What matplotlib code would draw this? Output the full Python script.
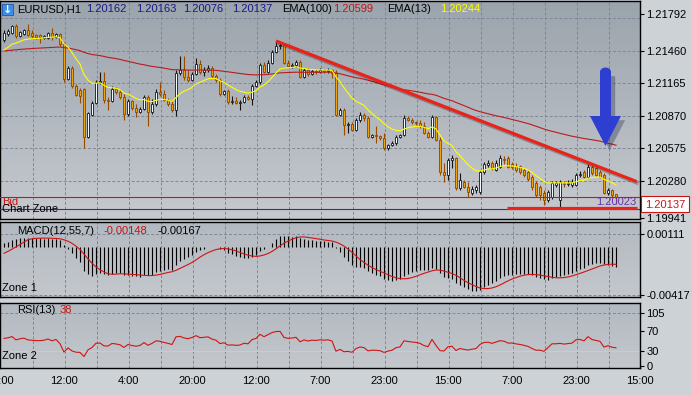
import numpy as np
import matplotlib
matplotlib.use("Agg")
import matplotlib.pyplot as plt
from matplotlib.colors import LinearSegmentedColormap
from matplotlib.patches import Rectangle, Polygon, Ellipse
import matplotlib.patheffects as pe

plt.rcParams['font.family'] = ['Liberation Sans', 'DejaVu Sans']

# ---------------- data (EURUSD, H1) ----------------
opens = [
    1.21556, 1.21610, 1.21619, 1.21683, 1.21592, 1.21610, 1.21647, 1.21619, 1.21601, 1.21601,
    1.21574, 1.21574, 1.21619, 1.21583, 1.21610, 1.21520, 1.21203, 1.21303, 1.21140, 1.21104,
    1.21113, 1.20678, 1.20877, 1.20986, 1.21176, 1.21185, 1.21013, 1.21004, 1.21113, 1.21085,
    1.21040, 1.20886, 1.21004, 1.20941, 1.20904, 1.20932, 1.21040, 1.20904, 1.20977, 1.21085,
    1.21067, 1.21013, 1.20977, 1.20923, 1.21257, 1.21284, 1.21221, 1.21194, 1.21248, 1.21339,
    1.21266, 1.21284, 1.21303, 1.21230, 1.21194, 1.21067, 1.21094, 1.20995, 1.21004, 1.20986,
    1.20995, 1.21040, 1.21022, 1.21140, 1.21176, 1.21330, 1.21266, 1.21348, 1.21447, 1.21502,
    1.21511, 1.21348, 1.21321, 1.21330, 1.21357, 1.21221, 1.21284, 1.21248, 1.21275, 1.21266,
    1.21284, 1.21275, 1.21284, 1.21257, 1.20877, 1.20923, 1.20787, 1.20796, 1.20742, 1.20832,
    1.20877, 1.20850, 1.20678, 1.20696, 1.20687, 1.20669, 1.20579, 1.20606, 1.20624, 1.20678,
    1.20696, 1.20850, 1.20832, 1.20814, 1.20805, 1.20778, 1.20714, 1.20678, 1.20859, 1.20651,
    1.20361, 1.20334, 1.20470, 1.20488, 1.20217, 1.20271, 1.20226, 1.20172, 1.20199, 1.20181,
    1.20361, 1.20425, 1.20443, 1.20380, 1.20407, 1.20479, 1.20488, 1.20434, 1.20416, 1.20416,
    1.20380, 1.20361, 1.20316, 1.20262, 1.20226, 1.20172, 1.20109, 1.20136, 1.20244, 1.20109,
    1.20262, 1.20253, 1.20244, 1.20244, 1.20334, 1.20361, 1.20316, 1.20407, 1.20398, 1.20361,
    1.20334, 1.20172, 1.20199, 1.20162]
highs = [
    1.21647, 1.21656, 1.21692, 1.21701, 1.21637, 1.21656, 1.21701, 1.21647, 1.21610, 1.21610,
    1.21601, 1.21628, 1.21665, 1.21619, 1.21619, 1.21538, 1.21321, 1.21321, 1.21158, 1.21122,
    1.21122, 1.20904, 1.21004, 1.21194, 1.21266, 1.21266, 1.21040, 1.21140, 1.21131, 1.21113,
    1.21067, 1.21022, 1.21013, 1.20977, 1.20950, 1.21058, 1.21058, 1.21022, 1.21113, 1.21176,
    1.21104, 1.21031, 1.21013, 1.21284, 1.21411, 1.21411, 1.21284, 1.21266, 1.21393, 1.21375,
    1.21312, 1.21330, 1.21321, 1.21248, 1.21212, 1.21104, 1.21113, 1.21049, 1.21040, 1.21013,
    1.21058, 1.21058, 1.21158, 1.21194, 1.21348, 1.21357, 1.21375, 1.21466, 1.21547, 1.21538,
    1.21520, 1.21375, 1.21348, 1.21375, 1.21375, 1.21303, 1.21303, 1.21293, 1.21293, 1.21303,
    1.21293, 1.21303, 1.21293, 1.21284, 1.20941, 1.20941, 1.20814, 1.20814, 1.20850, 1.20904,
    1.20895, 1.20868, 1.20705, 1.20778, 1.20696, 1.20714, 1.20615, 1.20642, 1.20696, 1.20705,
    1.20877, 1.20868, 1.20850, 1.20823, 1.20832, 1.20814, 1.20732, 1.20877, 1.20868, 1.20678,
    1.20443, 1.20488, 1.20515, 1.20497, 1.20352, 1.20289, 1.20271, 1.20235, 1.20244, 1.20380,
    1.20452, 1.20470, 1.20461, 1.20470, 1.20515, 1.20506, 1.20506, 1.20452, 1.20443, 1.20425,
    1.20398, 1.20380, 1.20334, 1.20280, 1.20244, 1.20199, 1.20199, 1.20280, 1.20280, 1.20289,
    1.20280, 1.20289, 1.20298, 1.20352, 1.20370, 1.20380, 1.20434, 1.20425, 1.20416, 1.20380,
    1.20352, 1.20217, 1.20208, 1.20163]
lows = [
    1.21538, 1.21592, 1.21610, 1.21574, 1.21583, 1.21601, 1.21592, 1.21574, 1.21565, 1.21529,
    1.21565, 1.21565, 1.21556, 1.21574, 1.21502, 1.21176, 1.21194, 1.21122, 1.21049, 1.20986,
    1.20579, 1.20669, 1.20868, 1.20977, 1.21158, 1.20986, 1.20923, 1.20995, 1.21067, 1.21022,
    1.20832, 1.20868, 1.20923, 1.20859, 1.20895, 1.20923, 1.20778, 1.20886, 1.20959, 1.21049,
    1.21004, 1.20959, 1.20904, 1.20868, 1.21239, 1.21194, 1.21176, 1.21185, 1.21239, 1.21248,
    1.21230, 1.21266, 1.21212, 1.21176, 1.21049, 1.21058, 1.20977, 1.20977, 1.20977, 1.20923,
    1.20986, 1.21013, 1.20968, 1.21131, 1.21158, 1.21257, 1.21257, 1.21339, 1.21438, 1.21475,
    1.21339, 1.21312, 1.21303, 1.21312, 1.21212, 1.21212, 1.21230, 1.21239, 1.21248, 1.21257,
    1.21257, 1.21257, 1.21212, 1.20868, 1.20868, 1.20696, 1.20714, 1.20732, 1.20732, 1.20814,
    1.20823, 1.20669, 1.20669, 1.20624, 1.20651, 1.20561, 1.20561, 1.20597, 1.20606, 1.20669,
    1.20687, 1.20823, 1.20796, 1.20787, 1.20760, 1.20705, 1.20669, 1.20669, 1.20642, 1.20334,
    1.20271, 1.20289, 1.20398, 1.20199, 1.20199, 1.20217, 1.20136, 1.20154, 1.20172, 1.20163,
    1.20343, 1.20407, 1.20380, 1.20370, 1.20398, 1.20434, 1.20398, 1.20389, 1.20361, 1.20343,
    1.20316, 1.20280, 1.20199, 1.20136, 1.20109, 1.20063, 1.20091, 1.20118, 1.20226, 1.20045,
    1.20226, 1.20235, 1.20226, 1.20235, 1.20316, 1.20307, 1.20307, 1.20334, 1.20325, 1.20307,
    1.20163, 1.20154, 1.20136, 1.20076]
closes = [
    1.21619, 1.21637, 1.21683, 1.21592, 1.21628, 1.21647, 1.21601, 1.21592, 1.21583, 1.21583,
    1.21592, 1.21619, 1.21583, 1.21610, 1.21520, 1.21203, 1.21303, 1.21140, 1.21058, 1.21049,
    1.20678, 1.20895, 1.20986, 1.21176, 1.21185, 1.21013, 1.21004, 1.21113, 1.21085, 1.21040,
    1.20886, 1.21004, 1.20941, 1.20904, 1.20932, 1.21040, 1.20904, 1.20977, 1.21085, 1.21067,
    1.21013, 1.20977, 1.20923, 1.21257, 1.21284, 1.21221, 1.21194, 1.21248, 1.21339, 1.21266,
    1.21284, 1.21303, 1.21230, 1.21194, 1.21067, 1.21094, 1.20995, 1.21004, 1.20986, 1.20995,
    1.21040, 1.21022, 1.21140, 1.21176, 1.21330, 1.21266, 1.21348, 1.21447, 1.21502, 1.21511,
    1.21348, 1.21321, 1.21330, 1.21357, 1.21221, 1.21284, 1.21248, 1.21275, 1.21266, 1.21284,
    1.21275, 1.21284, 1.21257, 1.20877, 1.20923, 1.20787, 1.20796, 1.20742, 1.20832, 1.20877,
    1.20850, 1.20678, 1.20696, 1.20687, 1.20669, 1.20579, 1.20606, 1.20624, 1.20678, 1.20696,
    1.20850, 1.20832, 1.20814, 1.20805, 1.20778, 1.20714, 1.20678, 1.20859, 1.20651, 1.20361,
    1.20334, 1.20470, 1.20488, 1.20217, 1.20289, 1.20226, 1.20181, 1.20208, 1.20226, 1.20361,
    1.20434, 1.20443, 1.20398, 1.20443, 1.20488, 1.20470, 1.20407, 1.20407, 1.20380, 1.20361,
    1.20334, 1.20298, 1.20226, 1.20154, 1.20154, 1.20109, 1.20181, 1.20262, 1.20262, 1.20271,
    1.20253, 1.20262, 1.20271, 1.20334, 1.20343, 1.20316, 1.20407, 1.20352, 1.20334, 1.20316,
    1.20172, 1.20199, 1.20154, 1.20137]

time_labels = ["20:00", "12:00", "4:00", "20:00", "12:00", "7:00", "23:00", "15:00", "7:00", "23:00", "15:00"]
time_label_bars = [-1, 15, 31, 47, 63, 79, 95, 111, 127, 143, 159]
price_ticks = [1.21792, 1.21460, 1.21165, 1.20870, 1.20575, 1.20280, 1.19941]
price_grid = [1.21755, 1.21460, 1.21165, 1.20870, 1.20575, 1.20280]
macd_ticks = [0.00111, -0.00417]
rsi_ticks = [105, 70, 30, 0]

header_quote = ["1.20162", "1.20163", "1.20076", "1.20137"]
ema100_text, ema13_text = "1.20599", "1.20244"
macd_text = ["-0.00148", "-0.00167"]
rsi_text = "38"

bid_price = 1.20137
zone_price = 1.20023
zone_label = "1.20023"
trend_x, trend_y = [68, 158.2], [1.21547, 1.20274]
support_x, support_y = [125.7, 158.2], [1.20033, 1.20033]

# indicator seeds (state at first visible bar)
ema13_seed, ema100_seed = 1.21466, 1.21457
ema12_seed, ema55_seed = 1.21500, 1.21470
macd_prev_seed = -0.0007          # mean MACD of the bars before the window
rsi_gain_seed, rsi_loss_seed = 0.00035, 0.00029

# ---------------- indicators ----------------
c = np.array(closes)
n = len(c)
xs = np.arange(n)


def ema(series, period, seed):
    a = 2.0 / (period + 1)
    out = np.empty(len(series))
    prev = seed
    for i, v in enumerate(series):
        if i > 0:
            prev = a * v + (1 - a) * prev
        out[i] = prev
    return out


ema13 = ema(c, 13, ema13_seed)
ema100 = ema(c, 100, ema100_seed)
macd_main = ema(c, 12, ema12_seed) - ema(c, 55, ema55_seed)
macd_sig = []
for i in range(n):
    win = macd_main[max(0, i - 6):i + 1]
    macd_sig.append((win.sum() + (7 - len(win)) * macd_prev_seed) / 7)
macd_sig = np.array(macd_sig)

ag, al = rsi_gain_seed, rsi_loss_seed
rsi = [100 * ag / (ag + al)]
for i in range(1, n):
    d = c[i] - c[i - 1]
    ag = (ag * 12 + max(d, 0)) / 13
    al = (al * 12 + max(-d, 0)) / 13
    rsi.append(100 * ag / (ag + al))
rsi = np.array(rsi)

# ---------------- figure ----------------
W, H = 692, 395
fig = plt.figure(figsize=(W / 100, H / 100), dpi=100, facecolor='#cdd2d7')


def fx(px):
    return px / W


def fy(py):
    return 1 - py / H


def axrect(l, t, r, b):
    return [fx(l), fy(b), (r - l) / W, (b - t) / H]


ax = fig.add_axes(axrect(0, 1, 640, 219))
axm = fig.add_axes(axrect(0, 222, 640, 297), sharex=ax)
axr = fig.add_axes(axrect(0, 303, 640, 368), sharex=ax)


def grad_bg(a, top, bottom):
    cmap = LinearSegmentedColormap.from_list('g', [bottom, top])
    a.imshow(np.linspace(0, 1, 256).reshape(-1, 1), cmap=cmap, origin='lower',
             extent=(0, 1, 0, 1), transform=a.transAxes, aspect='auto',
             zorder=-10, interpolation='bilinear')


grad_bg(ax, '#9ba3ac', '#c6cacf')
grad_bg(axm, '#b3b9c0', '#c4c8cd')
grad_bg(axr, '#b3b9c0', '#c4c8cd')

grid_kw = dict(color='#7d8998', lw=0.7, ls=(0, (3, 2)), zorder=1)
vgrid = np.arange(7.25, 159, 8)
for a in (ax, axm, axr):
    for v in vgrid:
        a.axvline(v, **grid_kw)
for g in price_grid:
    ax.axhline(g, **grid_kw)
for g in macd_ticks:
    axm.axhline(g, **grid_kw)
axr.axhline(105, **grid_kw)
axr.axhline(30, color='#c9cdd1', lw=0.7, zorder=1)

# candles
for i, (o, h, l, cl) in enumerate(zip(opens, highs, lows, closes)):
    up = cl >= o
    ax.vlines(i, l, h, color='#151515' if up else '#9a4a00', lw=0.8, zorder=3)
    lo = min(o, cl)
    hgt = max(abs(cl - o), 0.00002)
    ax.add_patch(Rectangle((i - 0.33, lo), 0.66, hgt,
                           fc='#f2f9ff' if up else '#f0a20c',
                           ec='#151515' if up else '#8a4500', lw=0.6, zorder=4))

ax.plot(xs, ema100, color='#b81c1c', lw=0.8, zorder=5)
ax.plot(xs, ema13, color='#ffff00', lw=0.8, zorder=5)

shadow = [pe.SimpleLineShadow(offset=(1.2, -1.5), alpha=0.25), pe.Normal()]
ax.plot(trend_x, trend_y, color='#e8231b', lw=2.3, solid_capstyle='butt', zorder=7,
        path_effects=shadow)
ax.plot(support_x, support_y, color='#e8231b', lw=2.3, solid_capstyle='butt', zorder=7)

ax.axhline(bid_price, color='#cc1414', lw=0.8, zorder=6)
ax.axhline(zone_price, color='#5a1e8e', lw=0.8, zorder=6)

ytr = ax.get_yaxis_transform()
ax.text(0.003, bid_price - 0.00002, "Bid", color='#cc1414', fontsize=8,
        va='top', ha='left', transform=ytr, zorder=8)
ax.text(0.003, zone_price + 0.00004, "Chart Zone", color='black', fontsize=8,
        va='center', ha='left', transform=ytr, zorder=8)
ax.text(0.995, zone_price + 0.00071, zone_label, color='#6a32a8', fontsize=8,
        va='center', ha='right', transform=ytr, zorder=8)

# MACD
axm.vlines(xs, 0, macd_main, color='black', lw=0.8, zorder=3)
axm.plot(xs, macd_sig, color='#d01414', lw=0.8, zorder=4)

# RSI
axr.plot(xs, rsi, color='#d01414', lw=0.8, zorder=4)

# axes styling
ax.set_xlim(-1, 159)
ax.set_ylim(1.19936, 1.21909)
axm.set_ylim(-0.004343, 0.002149)
axr.set_ylim(-3.96, 124.8)

for a in (ax, axm, axr):
    a.yaxis.tick_right()
    a.tick_params(axis='y', direction='out', length=3, width=0.8, pad=1.5,
                  labelsize=8, colors='black')
    a.tick_params(axis='x', length=0)
    for s in a.spines.values():
        s.set_linewidth(1.0)
        s.set_color('black')

ax.set_yticks(price_ticks)
ax.set_yticklabels([f"{p:.5f}" for p in price_ticks])
axm.set_yticks(macd_ticks)
axm.set_yticklabels([f"{p:.5f}" for p in macd_ticks])
axr.set_yticks(rsi_ticks)
axr.set_yticklabels([str(t) for t in rsi_ticks])

axr.set_xticks(time_label_bars)
axr.set_xticklabels(time_labels)
axr.tick_params(axis='x', labelsize=8, pad=6)
ax.tick_params(labelbottom=False)
axm.tick_params(labelbottom=False)


# header texts
def ftxt(px, py, s, color='black', **kw):
    fig.text(fx(px), fy(py), s, color=color, fontsize=8, va='center', ha='left', zorder=20, **kw)


fig.add_artist(Rectangle((fx(2), fy(15)), 11 / W, 11 / H, transform=fig.transFigure,
                         fc='#3c8ee8', ec='#1d5aa8', lw=0.6, zorder=19))
fig.text(fx(7.5), fy(9.5), "\u2193", color='white', fontsize=8, ha='center', va='center',
         zorder=20, fontweight='bold', family='DejaVu Sans')
ftxt(17, 9.5, "EURUSD,H1")
for px, s in zip([86, 136, 183, 232], header_quote):
    ftxt(px, 9.5, s, color='#1a1a86')
ftxt(282, 9.5, "EMA(100)")
ftxt(333, 9.5, ema100_text, color='#c81414')
ftxt(387, 9.5, "EMA(13)")
ftxt(440, 9.5, ema13_text, color='#ffff00')

ftxt(17, 231, "MACD(12,55,7)")
ftxt(104, 231, macd_text[0], color='#c81414')
ftxt(157, 231, macd_text[1])
ftxt(2, 288, "Zone 1")

ftxt(17, 310, "RSI(13)")
ftxt(60, 310, rsi_text, color='#c81414')
ftxt(2, 356, "Zone 2")

# bid price box on the axis
fig.add_artist(Rectangle((fx(641), fy(212)), 48 / W, 16 / H, transform=fig.transFigure,
                         fc='white', ec='#cc1414', lw=0.8, zorder=19))
ftxt(645, 204.5, "1.20137", color='#cc1414')

# blue arrow annotation
pts = [(600, 72), (611, 72), (611, 116), (621, 116), (605.5, 146), (590, 116), (600, 116)]
arrow_fx = [pe.SimplePatchShadow(offset=(3, -3), alpha=0.3), pe.Normal()]
fig.add_artist(Polygon([(fx(a), fy(b)) for a, b in pts], closed=True, transform=fig.transFigure,
                       fc='#2e3ed0', ec='none', zorder=18, path_effects=arrow_fx))
fig.add_artist(Ellipse((fx(605.5), fy(72)), 11 / W, 9 / H, transform=fig.transFigure,
                       fc='#2e3ed0', ec='none', zorder=18))

fig.savefig("out.png", dpi=100, facecolor=fig.get_facecolor())
